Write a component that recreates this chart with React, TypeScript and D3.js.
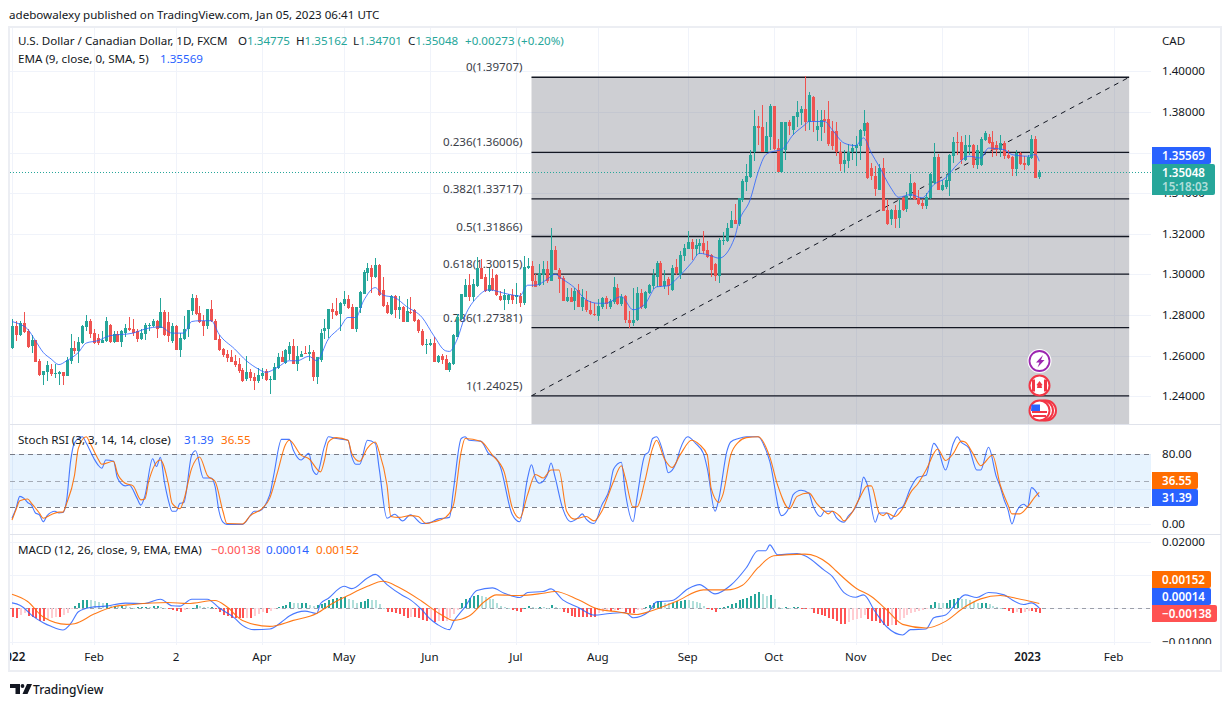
import React from 'react'
import * as d3 from 'd3'

// prices are stored in pips (1.34775 -> 13477.5)
const opens = [
  12639,12746,12701,12759,12723,12647,12677,12574,12505,12521,
  12535,12512,12512,12520,12502,12574,12638,12623,12662,12742,
  12772,12711,12687,12664,12672,12752,12667,12706,12667,12714,
  12736,12731,12721,12682,12706,12744,12744,12770,12736,12814,
  12765,12672,12747,12629,12682,12731,12819,12883,12809,12770,
  12746,12829,12770,12682,12633,12608,12593,12574,12559,12530,
  12485,12520,12495,12476,12502,12525,12481,12481,12539,12593,
  12564,12608,12647,12559,12593,12613,12608,12618,12495,12579,
  12721,12731,12829,12819,12804,12853,12878,12839,12731,12834,
  12903,13006,13030,12986,13045,12922,12849,12804,12893,12824,
  12839,12765,12817,12824,12775,12723,12652,12652,12662,12569,
  12598,12584,12530,12559,12693,12780,12888,12947,12888,12944,
  13030,12986,12917,12981,12997,12893,12873,12873,12898,12888,
  12893,12858,13030,13040,12966,12947,12996,13025,12966,13119,
  13020,12981,12868,12888,12868,12922,12839,12873,12824,12804,
  12795,12839,12883,12839,12863,12932,12853,12893,12775,12760,
  12775,12907,12834,12907,12942,12986,13055,12942,12976,12922,
  13035,12996,13089,13123,13158,13123,13138,13153,13119,13094,
  13050,12991,13163,13163,13227,13266,13246,13364,13457,13482,
  13604,13732,13727,13604,13678,13830,13624,13506,13614,13752,
  13712,13776,13796,13815,13752,13874,13712,13727,13766,13766,
  13707,13707,13604,13546,13560,13604,13624,13634,13707,13747,
  13526,13487,13418,13526,13315,13271,13315,13276,13374,13320,
  13384,13452,13374,13354,13335,13374,13452,13580,13418,13428,
  13462,13585,13654,13654,13565,13627,13639,13541,13541,13663,
  13678,13654,13639,13614,13649,13590,13580,13521,13600,13550,
  13541,13575,13668,13478,
]
const highs = [
  12783,12770,12770,12817,12731,12701,12677,12584,12525,12574,
  12559,12559,12526,12520,12592,12706,12672,12692,12752,12800,
  12780,12731,12706,12723,12791,12755,12723,12723,12728,12755,
  12790,12780,12731,12731,12763,12763,12783,12775,12883,12824,
  12814,12760,12750,12711,12795,12824,12903,12898,12844,12800,
  12829,12873,12780,12701,12638,12628,12628,12603,12589,12539,
  12598,12535,12515,12539,12539,12535,12500,12564,12613,12623,
  12633,12667,12682,12647,12623,12647,12652,12628,12593,12731,
  12780,12829,12858,12883,12863,12917,12898,12853,12839,12917,
  13020,13055,13045,13079,13050,12986,12863,12898,12898,12893,
  12844,12878,12888,12829,12780,12731,12682,12682,12692,12603,
  12608,12603,12569,12706,12804,12903,12976,13001,12976,13084,
  13074,13001,13030,13025,13001,12917,12927,12903,12927,12957,
  12907,13089,13079,13065,13001,13050,13065,13065,13227,13138,
  13030,12991,12932,12932,12932,12952,12927,12917,12868,12858,
  12878,12888,12893,12878,12986,12952,12903,12898,12819,12932,
  12937,12927,12917,12952,13025,13065,13065,13020,12986,13045,
  13074,13114,13148,13212,13173,13173,13173,13212,13163,13099,
  13055,13177,13207,13251,13310,13349,13374,13472,13546,13614,
  13811,13778,13835,13752,13840,13830,13668,13752,13752,13762,
  13781,13855,13830,13977,13899,13879,13811,13811,13811,13855,
  13757,13752,13654,13614,13644,13644,13683,13717,13811,13752,
  13550,13536,13546,13575,13369,13320,13344,13369,13388,13408,
  13496,13457,13418,13369,13403,13501,13649,13595,13467,13492,
  13595,13678,13703,13683,13688,13688,13644,13639,13678,13707,
  13693,13707,13658,13688,13658,13614,13585,13614,13604,13585,
  13590,13688,13683,13516,
]
const lows = [
  12634,12672,12697,12714,12639,12615,12570,12502,12458,12477,
  12502,12490,12458,12458,12502,12561,12608,12566,12657,12723,
  12687,12657,12654,12664,12667,12662,12662,12667,12644,12690,
  12723,12698,12667,12677,12677,12723,12739,12688,12736,12697,
  12665,12662,12629,12595,12677,12693,12800,12800,12760,12697,
  12731,12765,12677,12621,12593,12571,12569,12544,12517,12471,
  12476,12476,12433,12466,12485,12476,12409,12481,12535,12569,
  12559,12579,12559,12525,12592,12608,12574,12476,12461,12569,
  12682,12687,12780,12795,12721,12844,12829,12731,12716,12809,
  12903,12966,12907,12981,12893,12839,12804,12800,12785,12780,
  12765,12765,12804,12764,12714,12649,12608,12649,12569,12564,
  12559,12530,12520,12554,12690,12777,12888,12867,12868,12939,
  12976,12912,12914,12917,12893,12868,12824,12853,12853,12853,
  12839,12849,13025,12937,12937,12942,12947,12957,12966,13020,
  12907,12868,12863,12863,12824,12839,12819,12813,12800,12795,
  12770,12829,12829,12829,12853,12849,12844,12760,12736,12746,
  12770,12829,12829,12903,12927,12937,12937,12927,12898,12917,
  12996,12976,13065,13123,13069,13091,13099,13099,13079,12986,
  12966,12957,13143,13158,13227,13246,13236,13359,13413,13477,
  13560,13639,13604,13604,13614,13614,13506,13506,13565,13688,
  13688,13727,13737,13707,13712,13703,13658,13658,13696,13634,
  13614,13585,13511,13500,13526,13565,13532,13565,13683,13472,
  13467,13388,13418,13310,13241,13241,13227,13231,13310,13305,
  13369,13364,13344,13320,13320,13369,13447,13418,13413,13423,
  13388,13550,13590,13546,13560,13590,13526,13521,13536,13658,
  13644,13580,13585,13580,13568,13570,13487,13487,13541,13516,
  13536,13570,13477,13470,
]
const closes = [
  12746,12701,12759,12719,12643,12677,12570,12505,12525,12554,
  12510,12515,12520,12500,12579,12638,12623,12667,12747,12770,
  12706,12662,12662,12677,12770,12667,12706,12667,12721,12736,
  12726,12711,12682,12714,12750,12752,12770,12731,12814,12701,
  12698,12747,12629,12687,12731,12824,12883,12804,12765,12746,
  12829,12770,12677,12628,12603,12589,12569,12554,12525,12476,
  12520,12490,12476,12505,12515,12481,12485,12544,12593,12569,
  12628,12647,12559,12598,12608,12608,12618,12495,12593,12711,
  12736,12829,12814,12800,12858,12878,12834,12731,12839,12912,
  13011,13030,12986,13045,12898,12844,12809,12893,12824,12839,
  12765,12819,12813,12770,12721,12652,12657,12662,12569,12598,
  12579,12530,12564,12701,12790,12903,12947,12888,12952,13030,
  12976,12917,12947,12922,12898,12873,12898,12898,12875,12898,
  12858,13035,13040,12966,12937,13006,13025,12966,13119,13020,
  12976,12868,12888,12863,12917,12839,12888,12824,12804,12800,
  12844,12883,12853,12868,12937,12853,12888,12775,12760,12775,
  12907,12839,12912,12947,12996,13055,12942,12966,12942,13030,
  13006,13094,13128,13158,13123,13143,13153,13114,13084,13020,
  12991,13168,13168,13231,13266,13246,13374,13462,13487,13590,
  13732,13722,13604,13683,13830,13619,13506,13752,13752,13732,
  13781,13801,13815,13752,13884,13757,13732,13762,13757,13644,
  13631,13604,13546,13565,13604,13624,13637,13712,13747,13477,
  13487,13423,13526,13310,13246,13315,13271,13315,13315,13388,
  13452,13369,13349,13335,13379,13496,13580,13418,13438,13467,
  13590,13654,13649,13565,13639,13639,13541,13614,13668,13698,
  13649,13614,13611,13649,13585,13575,13521,13600,13546,13541,
  13580,13668,13477,13505,
]

// indicator lines are read at the bars where they turn
const emaBars = [0,2,4,6,8,10,12,14,17,19,22,25,31,34,38,41,44,46,48,51,53,57,60,63,65,68,71,73,76,78,81,84,86,88,90,93,95,98,101,105,108,111,112,114,116,119,122,127,130,132,134,137,139,141,144,147,150,152,156,159,162,165,168,170,174,176,179,181,185,186,189,191,193,195,197,200,203,204,208,210,213,216,218,220,222,225,227,230,233,236,239,242,245,248,250,254,256,260,262,263]
const emaValues = [12768,12755,12731,12674,12616,12584,12556,12575,12616,12662,12674,12698,12711,12731,12742,12711,12711,12768,12772,12772,12706,12633,12575,12535,12518,12543,12575,12575,12597,12575,12682,12739,12788,12788,12870,12935,12898,12886,12842,12788,12698,12624,12621,12682,12796,12886,12924,12903,12894,12947,12947,12976,13001,12976,12935,12875,12858,12858,12891,12826,12853,12939,12944,12976,13058,13104,13091,13080,13181,13254,13369,13503,13590,13606,13614,13688,13737,13753,13753,13712,13647,13634,13672,13598,13532,13426,13380,13393,13377,13442,13475,13541,13582,13573,13622,13614,13590,13582,13590,13557]

const stochKBars = [0,1,2,3,4,5,6,7,8,9,11,12,13,14,15,16,18,19,21,22,23,24,26,27,29,30,32,33,34,36,37,38,39,40,41,42,43,44,46,47,49,51,52,53,54,55,59,61,62,63,66,67,69,71,72,74,76,77,78,80,81,83,86,87,88,89,91,93,94,96,98,100,102,105,107,109,112,113,115,116,117,120,122,124,125,128,130,132,133,134,135,137,138,139,141,143,145,146,147,149,151,153,154,156,157,159,160,162,163,164,165,167,168,170,171,173,175,177,178,180,181,183,184,186,188,191,193,194,197,199,200,202,204,205,207,208,210,211,213,214,216,217,218,219,221,222,224,225,227,228,230,232,234,236,237,239,241,242,243,245,247,248,250,252,253,254,255,256,257,259,260,261,263]
const stochKValues = [7,18,32,30,25,22,13,11,3,10,15,13,13.5,28,72,93,100,93,75,68,64,73.5,72,53,44,45,30,22,32,75,66,76.5,49,28,15,15,24,25,79,84,53,53,43,15,2.5,0,0,10,15,15,34,56,97,97,85,73.5,81,62,57,89,100,98,96,77,68.6,68.6,96,92.5,64,7,11.6,4,11,1,2,6,8,39,98,100,96,95,81,75,66,12,3,53,68,53,47,56,70,54.5,18,3,8,12,6,1,22,41,63,71,37,3,30,79,83,98,100,77,59,70,85,100,92.5,81,64,15,30,83,94,98,100,100,85,72,10,20,34,39,35.5,22,9,15,15,8,2.5,9,20,32,54,45,2.5,13,13,6,18,20,41,54,56,92.5,87,62,92.5,100,94,87,62,62,88,54.5,43,28,16.5,0.5,13,23,20,42,31.39]
const stochDBars = [0,1,2,4,5,7,8,10,12,13,14,16,17,19,20,22,23,26,27,29,31,33,34,35,38,40,41,43,44,46,48,50,52,54,55,59,61,64,66,68,70,71,74,76,79,80,81,83,86,87,89,91,93,94,96,97,99,102,104,106,108,111,113,115,116,120,123,126,128,130,132,134,136,138,140,142,144,147,149,151,154,156,157,159,160,162,164,165,167,169,171,174,176,178,179,181,182,184,186,188,191,194,196,199,201,204,206,208,209,210,212,213,215,217,219,220,222,223,224,226,228,230,232,234,237,239,241,243,244,246,248,251,253,255,256,258,260,262,263]
const stochDValues = [5,16.5,27,29,24,13,7,11,14,14,24,56,87,100,92.5,75,68.6,72,58,47,44,28,29,49,73.5,47,24,18,28,64,77,56,49,15,1,0.5,10,18,30,60,91,96,79,75,60,73.5,94,99,96,81,72,87,94,83,45,9,8,10,9,1,3,8,22,83,98,95,79,60,20,7,34,57,53,62,62,15,6,9,4,15,49,67,53,20,20,49,87,96,75,65,79,96,91,79,41,25,34,79,94,99,100,77,45,18,32,36,24,15,12,15,9,4,13,30,44,44,13,10,13,9,18,36,47,62,86,73,81,95,94,81,67,79,45,22,12,12,20,32,36.55]

const macdBars = [0,2,3,5,8,10,13,15,17,20,24,29,34,38,41,43,46,50,53,57,59,62,66,69,71,75,78,79,81,85,87,91,93,96,100,102,105,107,109,112,113,116,119,123,126,130,132,136,138,141,145,149,153,157,159,163,165,169,173,176,180,184,188,191,193,194,196,201,203,208,210,213,216,218,221,224,228,230,234,236,239,241,244,247,250,254,256,259,261,263]
const macdValues = [17,10,2,-20,-43,-54,-65,-46,-10,3,7,16,15,28,8,7,28,28,2,-29,-51,-64,-62,-41,-23,-8,-15,15,31,67,60,92,103,72,39,26,-5,-31,-49,-64,-41,5,54,62,46,33,48,51,59,26,3,-20,-15,-12,-28,-10,20,24,59,72,44,70,123,174,174,192,162,166,159,115,97,48,34,41,-10,-56,-80,-64,-62,-28,-20,5,41,33,48,41,26,12,17,1.4]
const signalBars = [0,4,8,14,16,21,26,31,40,45,52,55,59,66,72,78,82,86,91,95,99,105,110,113,117,121,124,130,136,139,145,150,155,160,163,170,177,183,187,191,195,203,209,211,216,220,224,228,234,239,244,248,253,257,263]
const signalValues = [43,21,-26,-48,-46,-17,5,12,18,15,24,5,-36,-54,-36,-15,15,39,67,82,64,21,-20,-36,-23,21,41,39,46,51,26,-2,-10,-18,-10,21,56,56,70,123,159,164,135,113,62,36,-5,-48,-59,-39,5,29,39,31,15.2]
const histogram = [
  -27,-28,-20,-15,-22,-25,-30,-38,-38,-32,-28,-25,-25,-20,-15,-3,8,15,25,26,
  25,22,20,15,18,8,8,6,8,6,4,2,3,4,5,4,7,8,5,2,
  -3,-6,-8,-10,-6,-3,2,10,8,5,4,4,-3,-12,-20,-24,-28,-28,-30,-30,
  -28,-28,-22,-18,-12,-14,-8,-2,3,7,10,20,18,17,17,18,10,7,9,12,
  15,25,30,33,35,35,28,25,15,20,22,28,27,26,12,2,-10,-12,-14,-18,
  -22,-28,-25,-25,-28,-35,-37,-33,-40,-37,-38,-37,-28,-18,-5,17,28,32,38,40,
  38,35,30,28,15,7,3,2,-5,-8,-10,2,6,3,1,4,3,1,10,5,
  1,-10,-15,-22,-25,-25,-25,-25,-25,-26,-15,-10,-5,-8,-4,-4,-1,-12,-15,-15,
  -6,-4,3,10,15,22,22,18,15,18,22,23,26,25,22,20,15,8,-1,-6,
  -10,1,4,8,12,18,26,30,33,38,45,50,43,38,40,28,5,2,3,2,
  3,3,-1,-3,-1,-14,-18,-20,-22,-30,-32,-38,-47,-48,-40,-35,-32,-28,-20,-33,
  -38,-38,-45,-50,-52,-50,-50,-35,-28,-20,-15,-10,-8,-6,-1,10,20,18,15,18,
  27,30,32,30,28,25,20,15,18,18,12,8,3,2,-2,-8,-14,-10,-15,-12,
  -8,-9,-12,-13.8,
]

const priceTicks = [1.4, 1.38, 1.36, 1.34, 1.32, 1.3, 1.28, 1.26, 1.24]
const stochGrid = [0, 40, 80]
const stochLabels = [80, 0]
const macdTicks = [0.02, 0.01, 0, -0.01]
const macdLabels = [0.02, -0.01]
const timeBars = [0, 21, 42, 64, 85, 107, 129, 150, 173, 195, 216, 238, 260, 282]
const timeLabels = ['2022', 'Feb', '2', 'Apr', 'May', 'Jun', 'Jul', 'Aug', 'Sep', 'Oct', 'Nov', 'Dec', '2023', 'Feb']
const fibRatios = ['0', '0.236', '0.382', '0.5', '0.618', '0.786', '1']
const fibPrices = [1.39707, 1.36006, 1.33717, 1.31866, 1.30015, 1.27381, 1.24025]
const fibStartBar = 133
const fibEndBar = 286
const lastPrice = 1.35048
const emaLast = 1.35569

const UP = '#26a69a'
const DOWN = '#ef5350'
const BLUE = '#2962ff'
const ORANGE = '#ff6d00'
const GRID = '#f0f3fa'
const INK = '#131722'
const FONT = '"Noto Sans", sans-serif'

const x = d3.scaleLinear().domain([0, 263]).range([12, 1039.3])
const yPrice = d3.scaleLinear().domain([1.24, 1.4]).range([396.3, 71.3])
const yStoch = d3.scaleLinear().domain([0, 80]).range([524.4, 454.3])
const yMacd = d3.scaleLinear().domain([-0.01, 0.02]).range([641.6, 542.2])

const PLOT_L = 10
const PLOT_R = 1151

const crisp = (v: number) => Math.round(v) + 0.5

const polyline = (bars: number[], values: number[], y: (v: number) => number) =>
  d3.line<number>().x((b) => x(b)).y((_, i) => y(values[i])).curve(d3.curveMonotoneX)(bars) ?? ''

const histColor = (v: number, i: number) => {
  const prev = i > 0 ? histogram[i - 1] : v
  if (v >= 0) return v >= prev ? UP : '#b2dfdb'
  return v <= prev ? '#ff5252' : '#ffcdd2'
}

const Badge = (p: { x: number; y: number; w: number; h: number; fill: string; text: string; text2?: string }) => (
  <g>
    <path
      d={`M${p.x} ${p.y}H${p.x + p.w - 2}Q${p.x + p.w} ${p.y} ${p.x + p.w} ${p.y + 2}V${p.y + p.h - 2}Q${p.x + p.w} ${p.y + p.h} ${p.x + p.w - 2} ${p.y + p.h}H${p.x}Z`}
      fill={p.fill}
    />
    <text x={p.x + 10} y={p.y + 13} fill="#fff" fontWeight={600}>{p.text}</text>
    {p.text2 && <text x={p.x + 10} y={p.y + 27} fill="#fff" fillOpacity={0.65} fontWeight={600}>{p.text2}</text>}
  </g>
)

export default function App() {
  return (
    <svg width={1232} height={707} style={{ position: 'absolute', left: 0, top: 0, background: '#fff' }} fontFamily={FONT} fontSize={11.6}>
      <defs>
        <clipPath id="main"><rect x={PLOT_L} y={27} width={PLOT_R - PLOT_L} height={397} /></clipPath>
        <clipPath id="stoch"><rect x={PLOT_L} y={425} width={PLOT_R - PLOT_L} height={109} /></clipPath>
        <clipPath id="macd"><rect x={PLOT_L} y={535} width={PLOT_R - PLOT_L} height={110} /></clipPath>
        <clipPath id="axis"><rect x={PLOT_L} y={645} width={1210} height={26} /></clipPath>
        <clipPath id="macdAxis"><rect x={1152} y={535} width={68} height={109} /></clipPath>
      </defs>

      <text x={9} y={19} fill={INK}>adebowalexy published on TradingView.com, Jan 05, 2023 06:41 UTC</text>
      <rect x={9} y={27} width={1212} height={644} fill="none" stroke="#eceef3" strokeWidth={2} />

      {/* grid */}
      {timeBars.map((b) => (
        <line key={b} x1={crisp(x(b))} x2={crisp(x(b))} y1={28} y2={645} stroke={GRID} />
      ))}
      {priceTicks.map((t) => (
        <line key={t} x1={PLOT_L} x2={PLOT_R} y1={crisp(yPrice(t))} y2={crisp(yPrice(t))} stroke={GRID} />
      ))}
      {stochGrid.map((t) => (
        <line key={t} x1={PLOT_L} x2={PLOT_R} y1={crisp(yStoch(t))} y2={crisp(yStoch(t))} stroke={GRID} />
      ))}
      {macdTicks.map((t) => (
        <line key={t} x1={PLOT_L} x2={PLOT_R} y1={crisp(yMacd(t))} y2={crisp(yMacd(t))} stroke={GRID} />
      ))}

      {/* fib retracement under the candles */}
      <g clipPath="url(#main)">
        <rect
          x={x(fibStartBar)}
          y={yPrice(fibPrices[0])}
          width={x(fibEndBar) - x(fibStartBar)}
          height={424 - yPrice(fibPrices[0])}
          fill="rgb(120,123,134)"
          fillOpacity={0.36}
        />
        {fibPrices.map((p, i) => (
          <g key={p}>
            <line x1={x(fibStartBar)} x2={x(fibEndBar)} y1={yPrice(p)} y2={yPrice(p)} stroke={INK} strokeWidth={1.3} />
            <text x={x(fibStartBar) - 9} y={yPrice(p) - 6} textAnchor="end" fill="#3b3e48">{`${fibRatios[i]}(${p.toFixed(5)})`}</text>
          </g>
        ))}
        <line
          x1={x(fibStartBar)}
          y1={yPrice(fibPrices[6])}
          x2={x(fibEndBar)}
          y2={yPrice(fibPrices[0])}
          stroke={INK}
          strokeDasharray="5 5"
        />
      </g>

      {/* last price line */}
      <line
        x1={PLOT_L}
        x2={PLOT_R}
        y1={crisp(yPrice(lastPrice))}
        y2={crisp(yPrice(lastPrice))}
        stroke={UP}
        strokeDasharray="1 2"
      />

      {/* candles */}
      <g clipPath="url(#main)" shapeRendering="crispEdges">
        {closes.map((c, i) => {
          const o = opens[i]
          const color = c >= o ? UP : DOWN
          const cx = Math.round(x(i))
          const top = yPrice(Math.max(o, c) / 10000)
          const bot = yPrice(Math.min(o, c) / 10000)
          return (
            <g key={i}>
              <rect x={cx} y={yPrice(highs[i] / 10000)} width={1} height={yPrice(lows[i] / 10000) - yPrice(highs[i] / 10000)} fill={color} />
              <rect x={cx - 1} y={top} width={3} height={Math.max(bot - top, 1)} fill={color} />
            </g>
          )
        })}
      </g>
      <path
        clipPath="url(#main)"
        d={polyline(emaBars, emaValues, (v) => yPrice(v / 10000))}
        fill="none"
        stroke={BLUE}
        strokeOpacity={0.8}
      />

      {/* event markers */}
      <g>
        <circle cx={1039.5} cy={361} r={10} fill="#fff" stroke="#fff" strokeWidth={4} />
        <circle cx={1039.5} cy={361} r={10} fill="#fff" stroke="#9c27b0" strokeWidth={1.8} />
        <path d="M1043 355l-7 7.5h3.5l-2 5 7-7.5H1041z" fill="#9c27b0" />
        <circle cx={1039.5} cy={385.5} r={10} fill="#fff" stroke="#f23645" strokeWidth={2} />
        <path d="M1032 379.500h3v12h-3zM1044 379.500h3v12h-3zM1039.500 381l3 4-1 .5.5 2.500h-5l.5-2.500-1-.5z" fill="#f23645" />
        {[1046, 1043].map((cx) => (
          <circle key={cx} cx={cx} cy={410.5} r={10} fill="#fff" stroke="#f23645" strokeWidth={2} />
        ))}
        <circle cx={1039.5} cy={410.5} r={10} fill="#fff" stroke="#f23645" strokeWidth={2} />
        <path d="M1032 411h15v2h-15zM1033 415h13v2h-13z" fill="#f23645" />
        <path d="M1031.500 404.500h8.500v6.500h-9z" fill="#2962ff" />
      </g>

      {/* price scale */}
      {priceTicks.map((t) => (
        <text key={t} x={1162} y={yPrice(t) + 4} fill={INK}>{t.toFixed(5)}</text>
      ))}
      <text x={1162} y={45} fill={INK}>CAD</text>
      <Badge x={1152} y={147} w={59} h={17} fill={BLUE} text={emaLast.toFixed(5)} />
      <Badge x={1152} y={164} w={63} h={31} fill={UP} text={lastPrice.toFixed(5)} text2="15:18:03" />

      {/* legends */}
      <text x={18} y={45} fill={INK}>U.S. Dollar / Canadian Dollar, 1D, FXCM</text>
      {[
        ['O', '1.34775', 238],
        ['H', '1.35162', 296],
        ['L', '1.34701', 353],
        ['C', '1.35048', 408],
      ].map(([k, v, px]) => (
        <text key={k as string} x={px as number} y={45}>
          <tspan fill={INK}>{k}</tspan>
          <tspan fill={UP}>{v}</tspan>
        </text>
      ))}
      <text x={465} y={45} fill={UP}>+0.00273 (+0.20%)</text>
      <text x={18} y={63} fill={INK}>EMA (9, close, 0, SMA, 5)</text>
      <text x={160} y={63} fill={BLUE}>{emaLast.toFixed(5)}</text>

      {/* stoch rsi pane */}
      <line x1={PLOT_L} x2={1221} y1={424.5} y2={424.5} stroke="#e0e3eb" />
      <rect x={PLOT_L} y={yStoch(80)} width={PLOT_R - PLOT_L} height={yStoch(20) - yStoch(80)} fill="rgb(33,150,243)" fillOpacity={0.11} />
      {[80, 50, 20].map((t) => (
        <line
          key={t}
          x1={PLOT_L}
          x2={PLOT_R}
          y1={crisp(yStoch(t))}
          y2={crisp(yStoch(t))}
          stroke="#787b86"
          strokeOpacity={t === 50 ? 0.6 : 1}
          strokeDasharray="5 4"
        />
      ))}
      <g clipPath="url(#stoch)" fill="none">
        <path d={polyline(stochKBars, stochKValues, yStoch)} stroke={BLUE} strokeOpacity={0.85} strokeWidth={1.1} />
        <path d={polyline(stochDBars, stochDValues, yStoch)} stroke={ORANGE} strokeOpacity={0.9} strokeWidth={1.1} />
      </g>
      <text x={18} y={444} fill={INK}>Stoch RSI (3, 3, 14, 14, close)</text>
      <text x={184} y={444} fill={BLUE}>31.39</text>
      <text x={221} y={444} fill={ORANGE}>36.55</text>
      {stochLabels.map((t) => (
        <text key={t} x={1162} y={yStoch(t) + 4} fill={INK}>{t.toFixed(2)}</text>
      ))}
      <Badge x={1152} y={472} w={46} h={17} fill={ORANGE} text="36.55" />
      <Badge x={1152} y={489} w={46} h={17} fill={BLUE} text="31.39" />

      {/* macd pane */}
      <line x1={PLOT_L} x2={1221} y1={534.5} y2={534.5} stroke="#e0e3eb" />
      <line x1={PLOT_L} x2={PLOT_R} y1={crisp(yMacd(0))} y2={crisp(yMacd(0))} stroke="#787b86" strokeOpacity={0.7} strokeDasharray="4 4" />
      <g clipPath="url(#macd)">
        <g shapeRendering="crispEdges">
          {histogram.map((h, i) => {
            const y0 = yMacd(0)
            const yh = yMacd(h / 10000)
            return (
              <rect
                key={i}
                x={Math.round(x(i))}
                y={Math.min(y0, yh)}
                width={2}
                height={Math.max(Math.abs(yh - y0), 1)}
                fill={histColor(h, i)}
              />
            )
          })}
        </g>
        <path d={polyline(macdBars, macdValues, (v) => yMacd(v / 10000))} fill="none" stroke={BLUE} strokeOpacity={0.85} strokeWidth={1.1} />
        <path d={polyline(signalBars, signalValues, (v) => yMacd(v / 10000))} fill="none" stroke={ORANGE} strokeOpacity={0.9} strokeWidth={1.1} />
      </g>
      <text x={18} y={554} fill={INK}>MACD (12, 26, close, 9, EMA, EMA)</text>
      <text x={211} y={554} fill="#ff5252">−0.00138</text>
      <text x={266} y={554} fill={BLUE}>0.00014</text>
      <text x={316} y={554} fill={ORANGE}>0.00152</text>
      <g clipPath="url(#macdAxis)">
        {macdLabels.map((t) => (
          <text key={t} x={1162} y={yMacd(t) + 4} fill={INK}>{t < 0 ? `−${Math.abs(t).toFixed(5)}` : t.toFixed(5)}</text>
        ))}
      </g>
      <Badge x={1152} y={571} w={59} h={17} fill={ORANGE} text="0.00152" />
      <Badge x={1152} y={588} w={59} h={17} fill={BLUE} text="0.00014" />
      <Badge x={1152} y={605} w={65} h={17} fill="#ff5252" text="−0.00138" />

      {/* time scale */}
      <g clipPath="url(#axis)">
        {timeBars.map((b, i) => (
          <text
            key={b}
            x={x(b)}
            y={661}
            textAnchor="middle"
            fill={INK}
            fontWeight={timeLabels[i].length === 4 ? 600 : 400}
          >
            {timeLabels[i]}
          </text>
        ))}
      </g>

      {/* logo */}
      <g fill={INK}>
        <path d="M10 684h10v10h-4.500v-6H10zM27 684h5l-4.500 10h-5z" />
        <circle cx={22.5} cy={686} r={1.9} />
        <text x={33} y={694} fontSize={12} fontWeight={500}>TradingView</text>
      </g>
    </svg>
  )
}
